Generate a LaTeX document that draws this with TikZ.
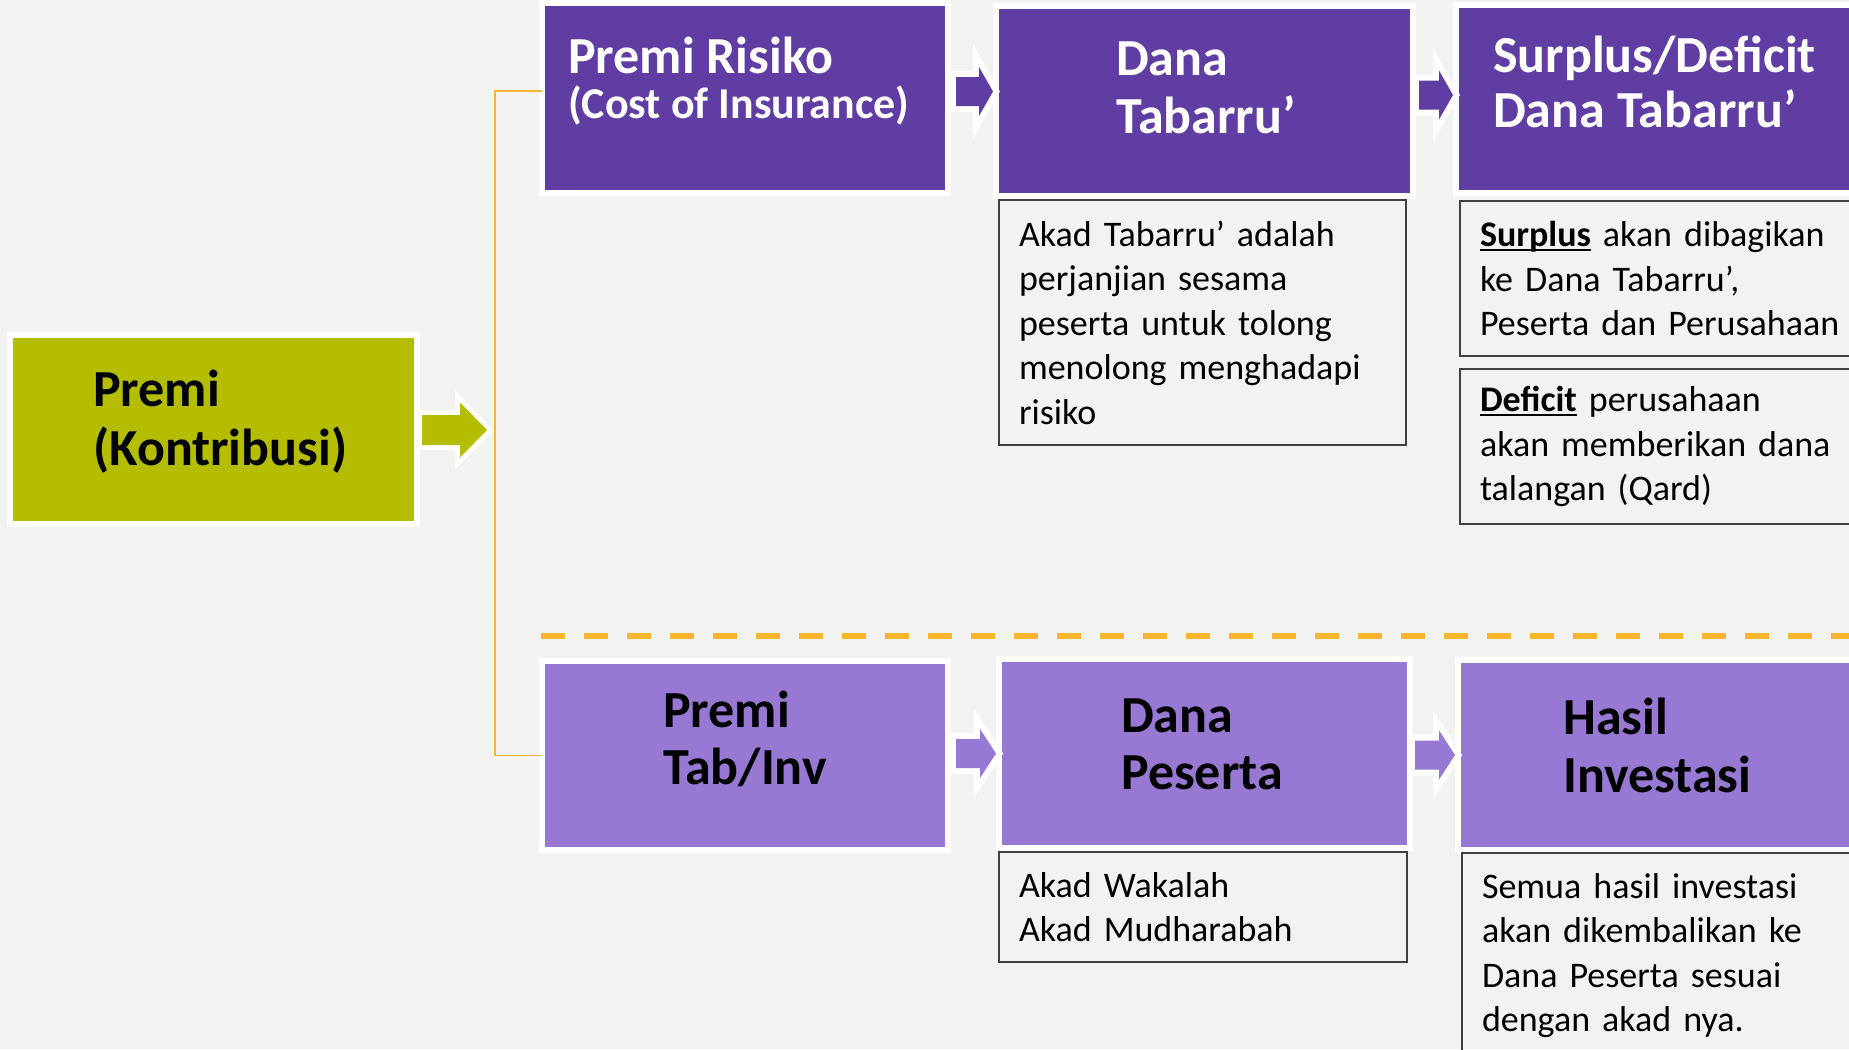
\documentclass[tikz,border=0pt]{standalone}
\usepackage{fontspec}
\setmainfont{Carlito}
\usetikzlibrary{calc}

\definecolor{bg}{HTML}{F2F2F0}
\definecolor{limefill}{HTML}{B5BD00}
\definecolor{purpdark}{HTML}{5F3DA3}
\definecolor{purplight}{HTML}{9778D3}
\definecolor{ambr}{HTML}{F9B52E}
\definecolor{noteline}{HTML}{404040}

\hyphenpenalty=10000
\exhyphenpenalty=10000

% bold word with underline
\newcommand\ulbf[1]{\setbox0\hbox{\bfseries #1}\rlap{\rule[-4.5pt]{\wd0}{1.8pt}}\box0\relax}

% block arrow: colour, tail, tip, head length, shaft half, head half, rim
\newcommand\flowarrow[7]{%
  \fill[#1, preaction={draw=white, fill=white, line width=#7, line join=miter}]
    let \p1=#2, \p2=#3 in
    (\x1,\y2+#5) -- (\x2-#4,\y2+#5) -- (\x2-#4,\y2+#6) -- (\x2,\y2)
    -- (\x2-#4,\y2-#6) -- (\x2-#4,\y2-#5) -- (\x1,\y2-#5) -- cycle;}

\begin{document}
\begin{tikzpicture}[x=1pt, y=-1pt,
    panel/.style={draw=white, line width=6pt, minimum width=406pt, minimum height=190pt, inner sep=0pt, outer sep=0pt},
    heading/.style={anchor=base west, align=left, inner sep=0pt, font=\bfseries\fontsize{52}{#1}\selectfont},
    heading/.default=58,
    memo/.style={draw=noteline, line width=1.4pt, anchor=north west, align=left, inner xsep=20pt, inner ysep=0pt, outer sep=0pt, font=\fontsize{36}{44.5}\selectfont},
    branch/.style={draw=ambr, line width=1.6pt}
]
\useasboundingbox (0,0) rectangle (1849,1049);
\clip (0,0) rectangle (1849,1049);
\fill[bg] (0,0) rectangle (1849,1049);

% Split point
\coordinate (jn) at (495,430);

% Boxes
\node[panel, fill=limefill, minimum width=407pt, minimum height=189pt] (prem) at (213.5,429.5) {};
\node[panel, fill=purpdark] (risiko) at (745,98) {};
\node[panel, fill=purpdark, minimum width=417pt] (dtab) at (1204.5,101) {};
\node[panel, fill=purpdark, minimum width=404pt, minimum height=188pt] (surp) at (1658,99) {};
\node[panel, fill=purplight, minimum height=189pt] (ptab) at (745,755.5) {};
\node[panel, fill=purplight, minimum width=411pt, minimum height=189pt] (dpes) at (1204.5,753.5) {};
\node[panel, fill=purplight, minimum width=402pt] (hasil) at (1659,755) {};

% Branches
\draw[branch] ([yshift=7pt]risiko.west) -| (jn) |- (ptab.west);
\draw[ambr, line width=6pt, dash pattern=on 24pt off 19pt] (541,636) -- (1860,636);

% Arrows
\flowarrow{limefill}{([xshift=5pt]prem.east)}{([xshift=-8pt]jn)}{27pt}{15pt}{27.5pt}{10pt}
\flowarrow{purpdark}{([xshift=8pt]risiko.east)}{([xshift=-3pt,yshift=9.5pt]dtab.west)}{14pt}{14.5pt}{24.5pt}{12pt}
\flowarrow{purpdark}{([xshift=6pt]dtab.east)}{([xshift=-3pt,yshift=4pt]surp.west)}{14pt}{14.5pt}{24.5pt}{12pt}
\flowarrow{purplight}{([xshift=8pt]ptab.east)}{([xshift=-3pt]dpes.west)}{16pt}{14.5pt}{24.5pt}{12pt}
\flowarrow{purplight}{([xshift=5pt]dpes.east)}{([xshift=-3pt]hasil.west)}{16pt}{14.5pt}{24.5pt}{12pt}

% Headings (placed on the last baseline)
\node[heading=59] (premL) at (93,465) {Premi\\(Kontribusi)};
\node[heading=45, text=white] (risikoL) at (568,118) {Premi Risiko\\{\fontsize{44}{45}\selectfont (Cost of Insurance)}};
\node[heading, text=white] (dtabL) at (1116,133) {Dana\\Tabarru’};
\node[heading=55, text=white] (surpL) at (1493,127) {Surplus/Deficit\\Dana Tabarru’};
\node[heading=57] (ptabL) at (663,784) {Premi\\Tab/Inv};
\node[heading=57] (dpesL) at (1121,789) {Dana\\Peserta};
\node[heading] (hasilL) at (1563,792) {Hasil\\Investasi};

% Notes
\node[memo, text width=367pt, minimum height=245pt] (tabnote) at (999,200)
  {Akad Tabarru’ adalah\\perjanjian sesama\\peserta untuk tolong\\menolong menghadapi\\risiko};
\node[memo, text width=390pt, minimum height=155pt] (surnote) at (1460,201)
  {\ulbf{Surplus} akan dibagikan\\ke Dana Tabarru’,\\Peserta dan Perusahaan};
\node[memo, text width=390pt, minimum height=155pt] (defnote) at (1460,369)
  {\ulbf{Deficit} perusahaan\\akan memberikan dana\\talangan (Qard)};
\node[memo, text width=368pt, minimum height=110pt] (waknote) at (999,852)
  {Akad Wakalah\\Akad Mudharabah};
\node[memo, text width=388pt, minimum height=205pt] (hasnote) at (1462,853)
  {Semua hasil investasi\\akan dikembalikan ke\\Dana Peserta sesuai\\dengan akad nya.};
\end{tikzpicture}
\end{document}
